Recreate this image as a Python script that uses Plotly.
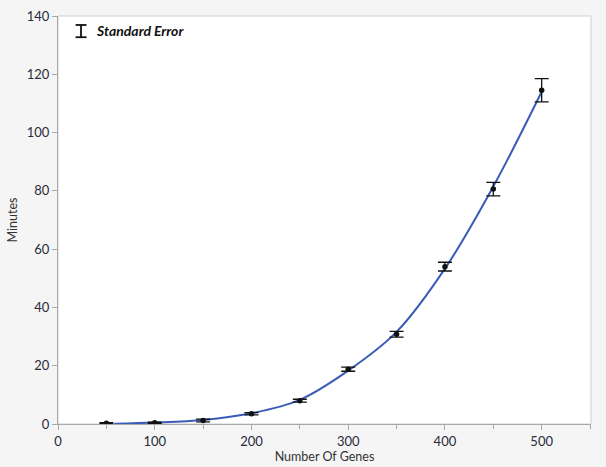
import plotly.graph_objects as go

genes = [50, 100, 150, 200, 250, 300, 350, 400, 450, 500]
minutes = [0.3, 0.4, 1.2, 3.5, 8.0, 18.8, 30.8, 54.0, 80.6, 114.5]
std_err = [0.2, 0.2, 0.5, 0.4, 0.5, 0.7, 1.0, 1.5, 2.3, 4.0]

fit_x = [58, 100, 150, 200, 250, 300, 350, 400, 450, 500]
fit_y = [0.1, 0.5, 1.4, 3.7, 8.3, 18.3, 31.6, 53.3, 81.5, 114.0]

x_ticks = [0, 100, 200, 300, 400, 500]
y_ticks = [0, 20, 40, 60, 80, 100, 120, 140]

font_fam = "Lato, 'Noto Sans', sans-serif"

fig = go.Figure()
fig.add_trace(go.Scatter(
    x=fit_x, y=fit_y, mode="lines",
    line=dict(color="#3a5cb8", width=2, shape="spline", smoothing=1.0),
    hoverinfo="skip", showlegend=False,
))
fig.add_trace(go.Scatter(
    x=genes, y=minutes, mode="markers",
    marker=dict(color="#111111", size=5.5),
    error_y=dict(type="data", array=std_err, visible=True,
                 color="#111111", thickness=1.3, width=7),
    showlegend=False,
))

# legend-like annotation (I-beam symbol + label)
lw = 1.8
fig.add_shape(type="line", xref="paper", yref="paper",
              x0=0.0432, x1=0.0432, y0=0.948, y1=0.978,
              line=dict(color="#111111", width=lw))
fig.add_shape(type="line", xref="paper", yref="paper",
              x0=0.0330, x1=0.0535, y0=0.978, y1=0.978,
              line=dict(color="#111111", width=lw))
fig.add_shape(type="line", xref="paper", yref="paper",
              x0=0.0330, x1=0.0535, y0=0.948, y1=0.948,
              line=dict(color="#111111", width=lw))
fig.add_annotation(xref="paper", yref="paper", x=0.068, y=0.964,
                   text="<b><i>Standard Error</i></b>", showarrow=False,
                   xanchor="left", yanchor="middle",
                   font=dict(family=font_fam, size=14, color="#111111"))

axis_common = dict(
    showgrid=False, zeroline=False, showline=True, linecolor="#a8a8a8",
    linewidth=1, ticks="outside", ticklen=5, tickcolor="#a8a8a8",
    tickfont=dict(family=font_fam, size=13, color="#2a2a3a"),
    mirror=False, automargin=False,
)

fig.update_xaxes(
    **axis_common, range=[0, 551], tickvals=x_ticks,
    minor=dict(dtick=50, tick0=0, ticks="outside", ticklen=4, tickcolor="#a8a8a8"),
    title=dict(text="Number Of Genes", standoff=2,
               font=dict(family=font_fam, size=12.5, color="#333333")),
)
fig.update_yaxes(
    **axis_common, range=[0, 140], tickvals=y_ticks,
    title=dict(text="Minutes", standoff=6,
               font=dict(family=font_fam, size=12.5, color="#333333")),
)

# plot frame
fig.add_shape(type="rect", xref="paper", yref="paper", x0=0, x1=1, y0=0, y1=1,
              line=dict(color="#cfcfcf", width=1), layer="below")

fig.update_layout(
    width=606, height=467,
    margin=dict(l=58, r=15, t=16, b=43),
    paper_bgcolor="#f5f5f5", plot_bgcolor="#ffffff",
)

fig.write_html(
    "out.html",
    config={"displayModeBar": False},
    post_script="document.body.style.margin='0';document.body.style.background='#f5f5f5';",
)
